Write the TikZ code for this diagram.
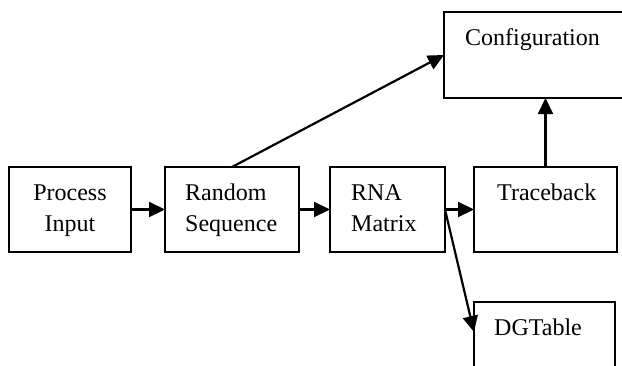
\documentclass[tikz,border=0pt]{standalone}
\usepackage{fontspec}
\setmainfont{Liberation Serif}
\usetikzlibrary{arrows.meta,calc}
\begin{document}
\begin{tikzpicture}[x=1pt,y=-1pt,
  box/.style={draw,line width=2pt,inner sep=0pt,outer sep=0pt,rectangle},
  lbl/.style={inner sep=0pt,font=\fontsize{24}{31}\selectfont},
  conn/.style={line width=2.2pt,-{Triangle[length=16pt,width=15pt]}}]
\useasboundingbox (0,0) rectangle (622,365);
\clip (0,0) rectangle (622,365);
\node[box,minimum width=122pt,minimum height=85pt] (P) at (70,209.5) {};
\node[box,minimum width=134pt,minimum height=85pt] (R) at (232,209.5) {};
\node[box,minimum width=115pt,minimum height=85pt] (M) at (387.5,209.5) {};
\node[box,minimum width=143pt,minimum height=85pt] (T) at (545.5,209.5) {};
\node[box,minimum width=206pt,minimum height=86pt] (C) at (547,55) {};
\node[box,minimum width=141pt,minimum height=90pt] (D) at (544.5,347) {};
\node[lbl,anchor=base] (p1) at (70,200) {Process};
\node[lbl,anchor=base] (p2) at (70,231) {Input};
\node[lbl,anchor=base west] (r1) at (185,200) {Random};
\node[lbl,anchor=base west] (r2) at (185,231) {Sequence};
\node[lbl,anchor=base west] (m1) at (351,200) {RNA};
\node[lbl,anchor=base west] (m2) at (351,231) {Matrix};
\node[lbl,anchor=base west] (t1) at (497,200) {Traceback};
\node[lbl,anchor=base west] (c1) at (465,45) {Configuration};
\node[lbl,anchor=base west] (d1) at (494,335) {DGTable};
\coordinate (dIn) at ($(D.north west)+(0,30)$);
\draw[conn] (P.east) -- (R.west);
\draw[conn] (R.east) -- (M.west);
\draw[conn] (M.east) -- (T.west);
\draw[conn] (M.east) -- (dIn);
\draw[conn] (R.north) -- (C.west);
\draw[conn] (T.north) -- (T.north |- C.south);
\end{tikzpicture}
\end{document}
